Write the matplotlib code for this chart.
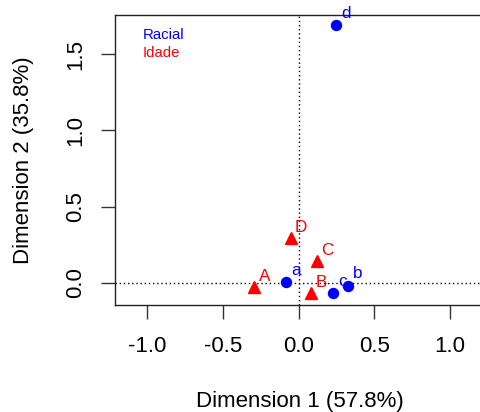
import matplotlib
matplotlib.use("Agg")
import matplotlib.pyplot as plt

plt.rcParams['font.family'] = ['Liberation Sans', 'DejaVu Sans']

# Row points (Racial)
row_labels = ['a', 'b', 'c', 'd']
row_x = [-0.084, 0.325, 0.228, 0.246]
row_y = [0.005, -0.020, -0.070, 1.688]

# Column points (Idade)
col_labels = ['A', 'B', 'C', 'D']
col_x = [-0.293, 0.081, 0.119, -0.053]
col_y = [-0.025, -0.070, 0.143, 0.296]

xlabel = 'Dimension 1 (57.8%)'
ylabel = 'Dimension 2 (35.8%)'
xticks = [-1.0, -0.5, 0.0, 0.5, 1.0]
yticks = [0.0, 0.5, 1.0, 1.5]
legend_names = ['Racial', 'Idade']

fig = plt.figure(figsize=(4.81, 4.12), dpi=100)
ax = fig.add_axes([115/481, 107/412, 367.3/481, 290/412])

ax.axhline(0, color='black', linestyle=(0, (1, 2)), linewidth=1, zorder=1)
ax.axvline(0, color='black', linestyle=(0, (1, 2)), linewidth=1, zorder=1)

ax.plot(row_x, row_y, 'o', color='#0000FF', markersize=7.2, linestyle='none', zorder=3)
ax.plot(col_x, col_y, '^', color='#FF0000', markersize=8.5, linestyle='none', zorder=3)

for lab, x, y in zip(row_labels, row_x, row_y):
    ax.annotate(lab, (x, y), xytext=(7, 8.5), textcoords='offset points',
                ha='center', va='center', color='#0000FF', fontsize=12.3)
for lab, x, y in zip(col_labels, col_x, col_y):
    ax.annotate(lab, (x, y), xytext=(7.5, 7.5), textcoords='offset points',
                ha='center', va='center', color='#FF0000', fontsize=12.3)

fig.text(143/481, 1 - 35/412, legend_names[0], color='#0000FF', fontsize=10.8,
         ha='left', va='center')
fig.text(143/481, 1 - 53/412, legend_names[1], color='#FF0000', fontsize=10.8,
         ha='left', va='center')

ax.set_xlim(-1.212, 1.212)
ax.set_ylim(-0.146, 1.756)
ax.set_xticks(xticks)
ax.set_xticklabels([f'{t:.1f}' for t in xticks])
ax.set_yticks(yticks)
ax.set_yticklabels([f'{t:.1f}' for t in yticks], rotation=90, va='center')
ax.tick_params(axis='both', length=10, width=1, labelsize=16, color='#333333')
ax.tick_params(axis='x', pad=12)
ax.tick_params(axis='y', pad=11)
for s in ax.spines.values():
    s.set_linewidth(1)
    s.set_color('#222222')

fig.text(300/481, 1 - 401/412, xlabel, fontsize=16, ha='center', va='center')
fig.text(24/481, 1 - 160/412, ylabel, fontsize=16, ha='center', va='center', rotation=90)

fig.savefig('out.png', dpi=100)
